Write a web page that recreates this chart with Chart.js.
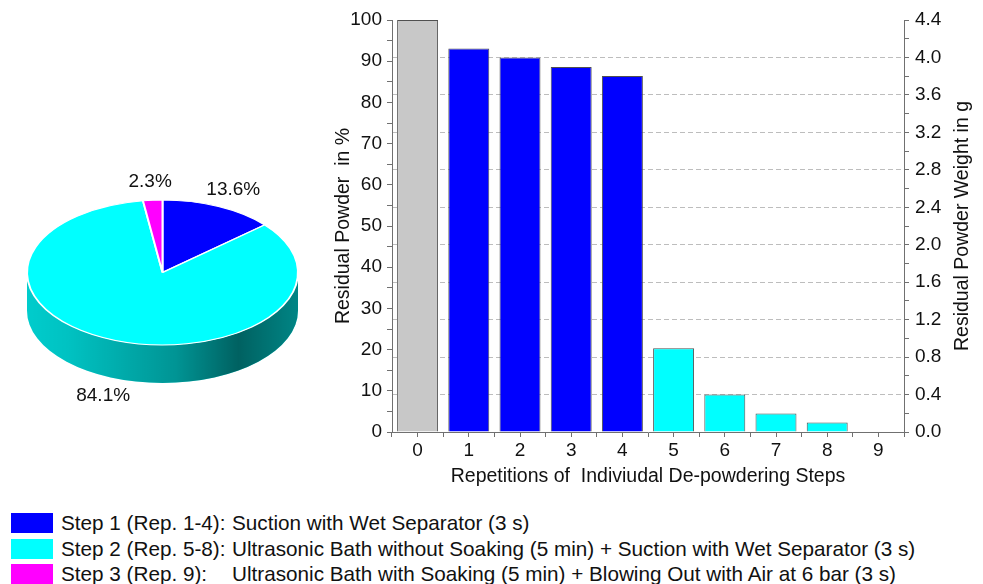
<!DOCTYPE html>
<html>
<head>
<meta charset="utf-8">
<script src="https://cdn.jsdelivr.net/npm/chart.js@4"></script>
<style>
  body { margin: 0; background: #fff; font-family: "Liberation Sans", Arial, sans-serif; }
  #wrap { position: relative; width: 983px; height: 584px; overflow: hidden; }
  #pieBox { position: absolute; left: 0; top: 0; width: 330px; height: 490px; }
  #barBox { position: absolute; left: 330px; top: 0; width: 653px; height: 490px; }
  .row { position: absolute; left: 0; height: 20px; font-size: 20.7px; line-height: 20px; color: #111; white-space: nowrap; }
  .row .sw { position: absolute; left: 11px; top: 0; width: 42px; height: 20px; }
  .row .c1 { position: absolute; left: 61px; top: 0; }
  .row .c2 { position: absolute; left: 232px; top: 0; }
</style>
</head>
<body>
<div id="wrap">
  <div id="pieBox"><canvas id="pieChart"></canvas></div>
  <div id="barBox"><canvas id="barChart"></canvas></div>
  <div id="legend"></div>
</div>
<script>
// data
const steps = ["0", "1", "2", "3", "4", "5", "6", "7", "8", "9"];
const residualPct = [100, 93.1, 90.9, 88.6, 86.4, 20.3, 9.1, 4.5, 2.3, 0];
const pieLabels = ["Step 1", "Step 2", "Step 3"];
const pieShares = [13.6, 84.1, 2.3];
const legendSteps = ["Step 1 (Rep. 1-4):", "Step 2 (Rep. 5-8):", "Step 3 (Rep. 9):"];
const legendTexts = [
    "Suction with Wet Separator (3 s)",
    "Ultrasonic Bath without Soaking (5 min) + Suction with Wet Separator (3 s)",
    "Ultrasonic Bath with Soaking (5 min) + Blowing Out with Air at 6 bar (3 s)"
];
const weightMaxG = 4.4;
const rightTitle = "Residual Powder Weight in g";

const stepColors = ["#0000ff", "#00ffff", "#ff00ff"];
const barColors = ["#c8c8c8", "#0000ff", "#0000ff", "#0000ff", "#0000ff", "#00ffff", "#00ffff", "#00ffff", "#00ffff", "#ff00ff"];
const FONT = "'Liberation Sans', Arial, sans-serif";

// Legend
const legend = document.getElementById("legend");
legendSteps.forEach((s, i) => {
    const row = document.createElement("div");
    row.className = "row";
    row.style.top = (513 + i * 25.5) + "px";
    row.innerHTML = `<span class="sw" style="background:${stepColors[i]}"></span><span class="c1">${s}</span><span class="c2">${legendTexts[i]}</span>`;
    legend.appendChild(row);
});

// 3D pie look: flatten the pie and draw a side wall
const squash = 0.535, depth = 38;
const pie3d = {
    id: "pie3d",
    beforeDatasetsDraw(chart) {
        const ctx = chart.ctx;
        const arcs = chart.getDatasetMeta(0).data;
        const { x, y, outerRadius: r } = arcs[0];
        const grad = ctx.createLinearGradient(x - r, 0, x + r, 0);
        grad.addColorStop(0, "rgba(0,0,0,0.20)");
        grad.addColorStop(0.15, "rgba(0,0,0,0.24)");
        grad.addColorStop(0.55, "rgba(0,0,0,0.42)");
        grad.addColorStop(0.78, "rgba(0,0,0,0.62)");
        grad.addColorStop(1, "rgba(0,0,0,0.48)");
        arcs.forEach((a, i) => {
            const col = chart.data.datasets[0].backgroundColor[i];
            [-2 * Math.PI, 0, 2 * Math.PI].forEach(off => {
                const a0 = Math.max(a.startAngle, off), a1 = Math.min(a.endAngle, off + Math.PI);
                if (a1 <= a0) return;
                const path = () => {
                    ctx.beginPath();
                    ctx.ellipse(x, y, r, r * squash, 0, a0, a1, false);
                    ctx.lineTo(x + r * Math.cos(a1), y + r * squash * Math.sin(a1) + depth);
                    ctx.ellipse(x, y + depth, r, r * squash, 0, a1, a0, true);
                    ctx.closePath();
                };
                path(); ctx.fillStyle = col; ctx.fill();
                path(); ctx.fillStyle = grad; ctx.fill();
            });
        });
        ctx.save();
        ctx.translate(x, y);
        ctx.scale(1, squash);
        ctx.translate(-x, -y);
    },
    afterDatasetsDraw(chart) {
        const ctx = chart.ctx;
        ctx.restore();
        const arcs = chart.getDatasetMeta(0).data;
        ctx.save();
        ctx.font = "19px " + FONT;
        ctx.fillStyle = "#111";
        ctx.textAlign = "center";
        ctx.textBaseline = "middle";
        arcs.forEach((a, i) => {
            const mid = (a.startAngle + a.endAngle) / 2;
            const rr = a.outerRadius * 1.26;
            const lx = a.x + Math.cos(mid) * rr;
            const ly = a.y + Math.sin(mid) * rr * squash + (Math.sin(mid) > 0 ? depth : 0);
            ctx.fillText(pieShares[i].toFixed(1) + "%", lx, ly);
        });
        ctx.restore();
    }
};

new Chart(document.getElementById("pieChart"), {
    type: "pie",
    data: { labels: pieLabels, datasets: [{ data: pieShares, backgroundColor: stepColors, borderColor: "#ffffff", borderWidth: 2, clip: false }] },
    options: {
        responsive: true, maintainAspectRatio: false, animation: false,
        radius: 135.5,
        layout: { padding: { top: 55, right: 5, bottom: 0, left: 0 } },
        plugins: { legend: { display: false }, tooltip: { enabled: false } }
    },
    plugins: [pie3d]
});

// right axis title reads bottom-to-top like the left one
const rightTitlePlugin = {
    id: "rightTitle",
    afterDraw(chart) {
        const ctx = chart.ctx, s = chart.scales.y1;
        ctx.save();
        ctx.translate(s.right - 20, (s.top + s.bottom) / 2);
        ctx.rotate(-Math.PI / 2);
        ctx.font = "19.5px " + FONT;
        ctx.fillStyle = "#111";
        ctx.textAlign = "center";
        ctx.textBaseline = "middle";
        ctx.fillText(rightTitle, 0, 0);
        ctx.restore();
    }
};

// Bar chart
const tickFont = { family: FONT, size: 19 };
const axisGray = "#707070";
const near = (v, s) => Math.abs(v / s - Math.round(v / s)) < 1e-6;

new Chart(document.getElementById("barChart"), {
    type: "bar",
    data: {
        labels: steps,
        datasets: [{ data: residualPct, backgroundColor: barColors, borderColor: "#505050", borderWidth: 1, barPercentage: 0.8, categoryPercentage: 1 }]
    },
    options: {
        responsive: true, maintainAspectRatio: false, animation: false,
        layout: { padding: { top: 20, right: 0, bottom: 0, left: 0 } },
        plugins: { legend: { display: false }, tooltip: { enabled: false } },
        scales: {
            x: {
                position: "bottom",
                afterFit: s => { s.height = 58; },
                grid: { drawOnChartArea: false, tickLength: 5, color: axisGray },
                border: { color: axisGray },
                ticks: { font: tickFont, color: "#111", padding: 2 },
                title: { display: true, text: "Repetitions of  Indiviudal De-powdering Steps", font: { family: FONT, size: 19.5 }, color: "#111", padding: 2 }
            },
            xc: {
                type: "category", position: "bottom", weight: -1, offset: true,
                afterFit: s => { s.height = 0; },
                grid: { offset: false, drawOnChartArea: false, tickLength: 5, color: axisGray },
                border: { display: false },
                ticks: { display: false }
            },
            y: {
                position: "left", min: 0, max: 100,
                afterFit: s => { s.width = 62; },
                grid: { drawOnChartArea: false, tickLength: 5, color: axisGray },
                border: { color: axisGray },
                ticks: { stepSize: 5, autoSkip: false, font: tickFont, color: "#111", padding: 5,
                    callback: v => (v % 10 === 0 ? String(v) : "") },
                title: { display: true, text: "Residual Powder  in %", font: { family: FONT, size: 19.5 }, color: "#111", padding: 2 }
            },
            y1: {
                position: "right", min: 0, max: weightMaxG,
                afterFit: s => { s.width = 79; },
                grid: {
                    drawOnChartArea: true, tickLength: 5, tickColor: axisGray,
                    color: c => (near(c.tick.value, 0.4) && c.tick.value > 0.01 && c.tick.value < weightMaxG - 0.01 ? "#bdbdbd" : "rgba(0,0,0,0)")
                },
                border: { color: axisGray, dash: [5, 3] },
                ticks: { stepSize: 0.2, autoSkip: false, font: tickFont, color: "#111", padding: 6,
                    callback: v => (near(v, 0.4) ? v.toFixed(1) : "") }
            }
        }
    },
    plugins: [rightTitlePlugin]
});
</script>
</body>
</html>
